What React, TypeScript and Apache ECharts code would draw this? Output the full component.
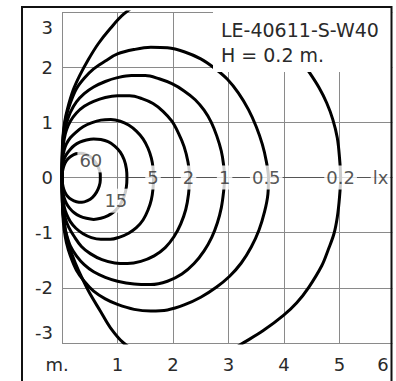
import React, { useEffect, useRef } from "react";
import * as echarts from "echarts";

// Isolux curves (x, y in metres)
const curve02: number[][] = [
  [0, 0], [0.003, 0.35], [0.015, 0.72], [0.05, 1.02], [0.1, 1.25], [0.2, 1.58], [0.32, 1.85], [0.47, 2.13],
  [0.65, 2.42], [0.87, 2.7], [1.11, 2.96], [1.45, 3.2], [1.85, 3.38], [2.3, 3.45], [2.75, 3.38], [3.23, 3.05],
  [3.65, 2.78], [3.99, 2.5], [4.25, 2.2], [4.46, 1.9], [4.63, 1.63], [4.77, 1.35], [4.88, 1.05], [4.96, 0.72],
  [5.0, 0.36], [5.02, 0],
  [5.0, -0.36], [4.96, -0.72], [4.9, -1.02], [4.8, -1.3], [4.68, -1.6], [4.44, -2.0], [4.23, -2.27], [3.99, -2.5],
  [3.62, -2.78], [3.23, -3.02], [2.75, -3.32], [2.3, -3.45], [1.85, -3.4], [1.45, -3.22], [1.11, -3.0],
  [0.87, -2.72], [0.69, -2.42], [0.5, -2.1], [0.36, -1.82], [0.24, -1.55], [0.13, -1.25], [0.06, -0.95],
  [0.018, -0.62], [0.003, -0.3], [0, 0],
];
const curve05: number[][] = [
  [0, 0], [0.003, 0.3], [0.015, 0.65], [0.04, 0.9], [0.08, 1.12], [0.15, 1.35], [0.26, 1.61], [0.4, 1.8],
  [0.57, 1.97], [0.78, 2.11], [1.0, 2.24], [1.3, 2.32], [1.6, 2.36], [1.9, 2.35], [2.2, 2.28], [2.5, 2.15],
  [2.75, 1.98], [2.98, 1.78], [3.18, 1.53], [3.36, 1.23], [3.5, 0.92], [3.61, 0.6], [3.68, 0.3], [3.72, 0],
  [3.71, -0.3], [3.65, -0.62], [3.55, -0.95], [3.41, -1.26], [3.23, -1.55], [3.02, -1.79], [2.78, -1.99],
  [2.5, -2.17], [2.2, -2.31], [1.9, -2.4], [1.6, -2.42], [1.3, -2.39], [1.0, -2.3], [0.78, -2.2], [0.57, -2.06],
  [0.4, -1.88], [0.26, -1.68], [0.15, -1.42], [0.08, -1.18], [0.04, -0.95], [0.015, -0.68], [0.003, -0.3], [0, 0],
];
const curve1: number[][] = [
  [0, 0], [0.003, 0.28], [0.015, 0.58], [0.04, 0.8], [0.08, 0.98], [0.15, 1.18], [0.26, 1.37], [0.4, 1.52],
  [0.57, 1.64], [0.78, 1.74], [1.0, 1.81], [1.25, 1.85], [1.5, 1.85], [1.75, 1.79], [1.98, 1.7], [2.2, 1.57],
  [2.4, 1.41], [2.56, 1.22], [2.69, 1.0], [2.79, 0.75], [2.87, 0.48], [2.91, 0.24], [2.93, 0],
  [2.91, -0.27], [2.87, -0.55], [2.8, -0.82], [2.7, -1.08], [2.56, -1.33], [2.38, -1.56], [2.16, -1.75],
  [1.9, -1.88], [1.6, -1.94], [1.3, -1.93], [1.0, -1.88], [0.78, -1.81], [0.57, -1.71], [0.4, -1.58],
  [0.26, -1.42], [0.15, -1.24], [0.08, -1.03], [0.04, -0.84], [0.015, -0.6], [0.003, -0.28], [0, 0],
];
const curve2: number[][] = [
  [0, 0], [0.003, 0.25], [0.015, 0.5], [0.04, 0.7], [0.08, 0.86], [0.15, 1.02], [0.26, 1.17], [0.4, 1.29],
  [0.57, 1.38], [0.78, 1.45], [1.0, 1.48], [1.22, 1.48], [1.44, 1.43], [1.64, 1.34], [1.82, 1.2], [1.98, 1.02],
  [2.1, 0.8], [2.2, 0.56], [2.27, 0.28], [2.3, 0],
  [2.28, -0.3], [2.23, -0.58], [2.14, -0.84], [2.02, -1.07], [1.86, -1.27], [1.66, -1.42], [1.42, -1.52],
  [1.18, -1.56], [0.95, -1.55], [0.72, -1.49], [0.51, -1.38], [0.35, -1.25], [0.22, -1.07], [0.12, -0.9],
  [0.06, -0.74], [0.025, -0.52], [0.005, -0.26], [0, 0],
];
const curve5: number[][] = [
  [0, 0], [0.003, 0.18], [0.015, 0.36], [0.04, 0.5], [0.08, 0.61], [0.15, 0.72], [0.25, 0.82], [0.38, 0.92],
  [0.53, 0.99], [0.7, 1.04], [0.88, 1.05], [1.05, 1.02], [1.2, 0.95], [1.34, 0.84], [1.46, 0.7], [1.55, 0.53],
  [1.61, 0.35], [1.64, 0.18], [1.65, 0],
  [1.64, -0.2], [1.61, -0.4], [1.55, -0.59], [1.46, -0.77], [1.34, -0.91], [1.2, -1.01], [1.04, -1.08],
  [0.87, -1.12], [0.7, -1.12], [0.53, -1.09], [0.38, -1.02], [0.25, -0.92], [0.15, -0.8], [0.08, -0.66],
  [0.04, -0.53], [0.015, -0.37], [0.003, -0.18], [0, 0],
];
const curve15: number[][] = [
  [0, 0], [0.003, 0.12], [0.015, 0.24], [0.04, 0.34], [0.08, 0.42], [0.14, 0.5], [0.22, 0.58], [0.32, 0.64],
  [0.44, 0.68], [0.57, 0.7], [0.7, 0.69], [0.83, 0.65], [0.95, 0.57], [1.05, 0.46], [1.12, 0.32], [1.16, 0.16],
  [1.17, 0],
  [1.16, -0.17], [1.12, -0.34], [1.05, -0.49], [0.95, -0.61], [0.83, -0.69], [0.7, -0.74], [0.57, -0.76],
  [0.44, -0.74], [0.32, -0.7], [0.22, -0.64], [0.14, -0.56], [0.08, -0.47], [0.04, -0.37], [0.015, -0.26],
  [0.003, -0.13], [0, 0],
];
const curve60: number[][] = [
  [0, 0], [0.005, 0.08], [0.02, 0.16], [0.05, 0.25], [0.1, 0.33], [0.17, 0.39], [0.25, 0.43], [0.34, 0.44],
  [0.43, 0.42], [0.52, 0.37], [0.6, 0.28], [0.66, 0.17], [0.69, 0.06], [0.69, -0.05], [0.67, -0.16],
  [0.62, -0.27], [0.55, -0.36], [0.46, -0.42], [0.36, -0.45], [0.26, -0.44], [0.17, -0.4], [0.1, -0.34],
  [0.05, -0.26], [0.02, -0.17], [0.005, -0.08], [0, 0],
];

const curves = [curve02, curve05, curve1, curve2, curve5, curve15, curve60];

// Curve labels (text, x, y)
const labelTexts = ["60", "15", "5", "2", "1", "0.5", "0.2", "lx"];
const labelX = [0.52, 0.97, 1.64, 2.28, 2.93, 3.68, 5.02, 5.74];
const labelY = [0.31, -0.42, 0, 0, 0, 0, 0, 0];

// darker part of the zero line carrying the labels
const zeroLine: number[][] = [[1.2, 0], [6, 0]];

const titleLines = ["LE-40611-S-W40", "H = 0.2 m."];

const FONT = "DejaVu Sans";
const TXT = "#2a2a2a";

export default function App() {
  const ref = useRef<HTMLDivElement>(null);
  useEffect(() => {
    document.body.style.margin = "0";
    const chart = echarts.init(ref.current!, null, { renderer: "svg" });
    const lineSeries = curves.map((c) => ({
      type: "line",
      data: c,
      smooth: 0.35,
      showSymbol: false,
      symbol: "none",
      lineStyle: { color: "#000", width: 3 },
      z: 3,
      silent: true,
    }));
    const zeroSeries = {
      type: "line",
      data: zeroLine,
      showSymbol: false,
      symbol: "none",
      lineStyle: { color: "#555", width: 1 },
      z: 2,
      silent: true,
    };
    const labelSeries = {
      type: "scatter",
      symbolSize: 0,
      z: 10,
      silent: true,
      data: labelTexts.map((t, i) => ({ name: t, value: [labelX[i], labelY[i]] })),
      label: {
        show: true,
        position: "inside",
        formatter: (p: any) => p.name,
        fontFamily: FONT,
        fontSize: 18,
        color: TXT,
        backgroundColor: "#fff",
        padding: [4, 2, 2, 2],
      },
    };
    chart.setOption({
      animation: false,
      grid: { left: 62, right: 1, top: 12, bottom: 38 },
      xAxis: {
        type: "value",
        min: 0,
        max: 6,
        interval: 1,
        axisLine: { show: false },
        axisTick: { show: false },
        splitLine: { show: true, lineStyle: { color: "#8a8a8a", width: 1 } },
        axisLabel: {
          margin: 12,
          fontFamily: FONT,
          fontSize: 18,
          color: TXT,
          formatter: (v: number) => (v === 0 ? "{m|m.}" : v === 6 ? "{r|6}" : String(v)),
          rich: {
            m: { fontFamily: FONT, fontSize: 18, color: TXT, padding: [0, 10, 0, 0] },
            r: { fontFamily: FONT, fontSize: 18, color: TXT, padding: [0, 24, 0, 0] },
          },
        },
      },
      yAxis: {
        type: "value",
        min: -3,
        max: 3,
        interval: 1,
        axisLine: { show: false },
        axisTick: { show: false },
        splitLine: { show: true, lineStyle: { color: "#8a8a8a", width: 1 } },
        axisLabel: {
          margin: 9,
          fontFamily: FONT,
          fontSize: 18,
          color: TXT,
          formatter: (v: number) => (v === 3 ? "{t|3}" : v === -3 ? "{b|-3}" : String(v)),
          rich: {
            t: { fontFamily: FONT, fontSize: 18, color: TXT, padding: [30, 0, 0, 0] },
            b: { fontFamily: FONT, fontSize: 18, color: TXT, padding: [0, 0, 22, 0] },
          },
        },
      },
      graphic: [
        { type: "rect", z: 100, shape: { x: 213, y: 8, width: 179, height: 64 }, style: { fill: "#fff" } },
        { type: "rect", z: 100, shape: { x: 392.5, y: 0, width: 4, height: 381 }, style: { fill: "#fff" } },
        {
          type: "text", z: 101, x: 221, y: 30,
          style: { text: titleLines[0], fontFamily: FONT, fontSize: 19, fill: TXT, verticalAlign: "middle" },
        },
        {
          type: "text", z: 101, x: 221, y: 55,
          style: { text: titleLines[1], fontFamily: FONT, fontSize: 19, fill: TXT, verticalAlign: "middle" },
        },
        {
          type: "rect", z: 102, shape: { x: 22, y: 7, width: 369.5, height: 400 },
          style: { fill: "none", stroke: "#111", lineWidth: 2 },
        },
      ],
      series: [...lineSeries, zeroSeries, labelSeries],
    });
    return () => chart.dispose();
  }, []);
  return <div ref={ref} style={{ width: 396, height: 381 }} />;
}
